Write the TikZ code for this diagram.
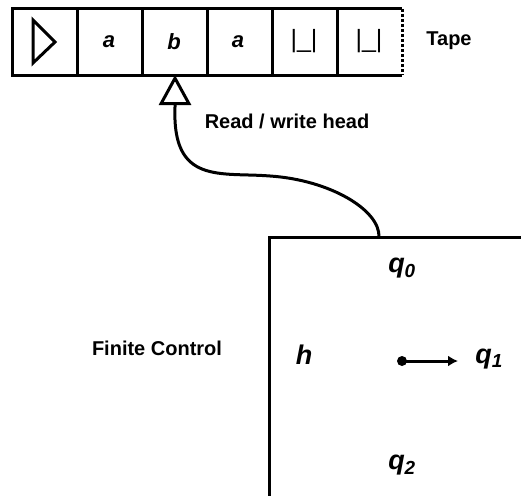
\documentclass[tikz,border=0pt]{standalone}
\usepackage{fontspec}
\setmainfont{Liberation Sans}
\usetikzlibrary{arrows.meta}

\begin{document}
\begin{tikzpicture}[x=1pt, y=-1pt, line width=3pt,
    sym/.style={font=\fontsize{22}{22}\selectfont\bfseries\itshape},
    state/.style={font=\fontsize{27}{27}\selectfont\bfseries\itshape},
    blank/.style={font=\fontsize{25}{25}\selectfont},
    lbl/.style={font=\fontsize{20}{20}\selectfont\bfseries}]
  \useasboundingbox (0,0) rectangle (521,495);
  % the tape, open to the right
  \draw (402,9) -- (12,9) -- (12,75) -- (402,75);
  \foreach \x in {77,142,207,272,337}
    \draw (\x,9) -- (\x,75);
  \draw[dotted] (402,9) -- (402,75);
  \draw[line join=miter] (33,20) -- (33,63) -- (55,42) -- cycle; % left end marker
  \node[sym] (c2) at (109,42) {a};
  \node[sym] (c3) at (174,42) {b};
  \node[sym] (c4) at (238,42) {a};
  \node[blank] (c5) at (304,41) {|\_|};
  \node[blank] (c6) at (369,41) {|\_|};
  \coordinate (under) at (175,75);
  \node[lbl] (tape) at (449,41) {Tape};
  \node[lbl] (rw) at (287,121) {Read / write head};
  % finite control, runs off the page
  \draw (269,500) |- (525,237);
  \coordinate (top) at (379,237);
  \coordinate (stem) at (175,107);
  \draw[-{Triangle[open, length=30pt, width=32pt]}]
    (top) .. controls (380,210) and (330,180) .. (270,176)
    .. controls (220,172) and (172,185) .. (stem) -- (under);
  \node[lbl] (fc) at (157,348) {Finite Control};
  \node[state] (h) at (304,355) {h};
  \node[state] (q0) at (402,268) {q\textsubscript{0}};
  \node[state] (q1) at (489,359) {q\textsubscript{1}};
  \node[state] (q2) at (402,465) {q\textsubscript{2}};
  \fill (402,361) circle [radius=5pt] coordinate (dot);
  \draw[-{Latex[length=10pt, width=11pt]}] (dot) -- (458,361);
\end{tikzpicture}
\end{document}
